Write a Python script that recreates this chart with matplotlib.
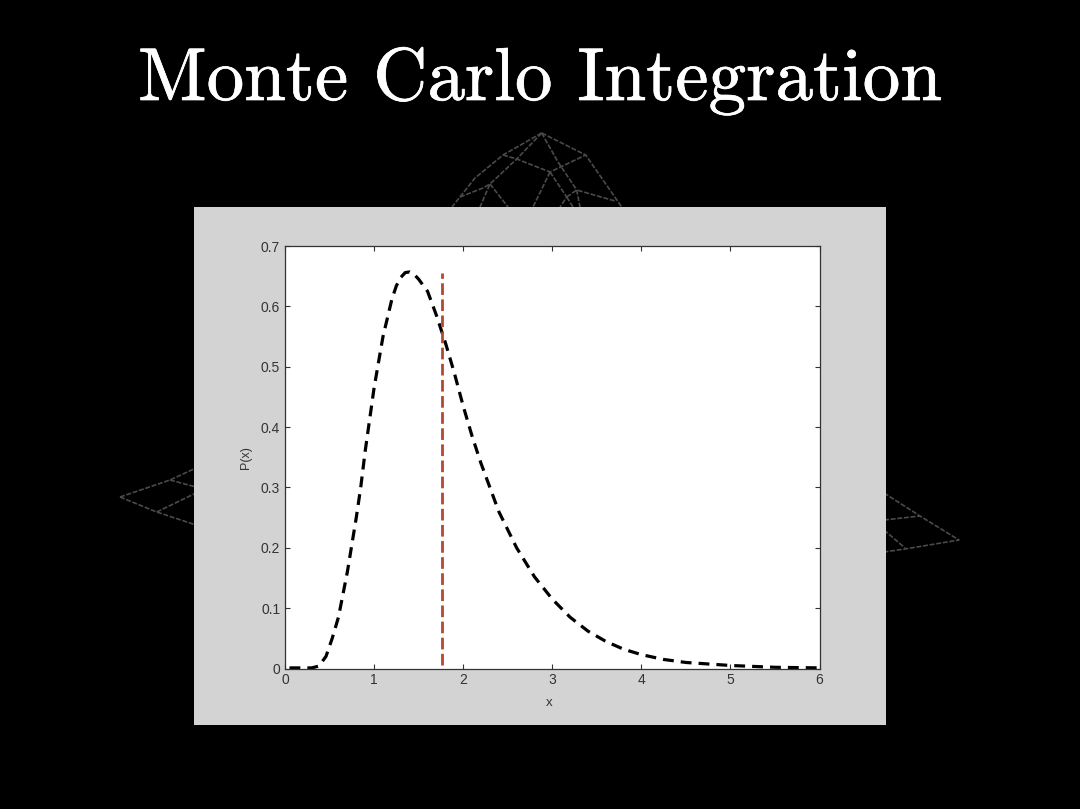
import matplotlib
matplotlib.use('Agg')
import matplotlib.pyplot as plt
import matplotlib.patheffects as pe
from matplotlib.patches import Rectangle

# curve
x_vals = [0.05, 0.2, 0.3, 0.38, 0.46, 0.53, 0.6, 0.7, 0.8, 0.85, 0.9, 1.0, 1.1, 1.2, 1.25, 1.3,
          1.35, 1.4, 1.45, 1.5, 1.6, 1.7, 1.8, 1.9, 2.0, 2.1, 2.2, 2.3, 2.4, 2.6, 2.8, 3.0, 3.2,
          3.4, 3.6, 3.8, 4.0, 4.25, 4.5, 5.0, 5.5, 6.0]
p_vals = [0.001, 0.001, 0.001, 0.004, 0.02, 0.05, 0.085, 0.16, 0.25, 0.30, 0.36, 0.465, 0.55,
          0.612, 0.634, 0.648, 0.656, 0.657, 0.653, 0.645, 0.625, 0.585, 0.54, 0.49, 0.435,
          0.385, 0.34, 0.30, 0.26, 0.2, 0.152, 0.115, 0.085, 0.062, 0.045, 0.032, 0.023, 0.015,
          0.01, 0.005, 0.002, 0.001]
marker_x = [1.76, 1.76]
marker_y = [0.005, 0.655]
x_ticks = [0, 1, 2, 3, 4, 5, 6]
y_ticks = [0, 0.1, 0.2, 0.3, 0.4, 0.5, 0.6, 0.7]
y_labels = ['0', '0.1', '0.2', '0.3', '0.4', '0.5', '0.6', '0.7']

# wireframe behind the panel, in image pixels
wire_top = [
    [(541.7, 133), (585.7, 155), (621.7, 207)],
    [(541.7, 133), (503, 155), (475, 178), (452, 207)],
    [(541.7, 133), (516.7, 159), (490, 184), (480, 207)],
    [(503, 155), (516.7, 159), (550, 172), (585.7, 155)],
    [(541.7, 133), (558, 162), (576.7, 190), (580, 207)],
    [(550, 172), (533, 207)],
    [(550, 172), (566.7, 197), (560, 207)],
    [(566.7, 197), (573, 207)],
    [(566.7, 197), (576.7, 190), (615, 201)],
    [(490, 184), (508, 207)],
    [(460, 197), (483, 188), (490, 184)],
]
wire_left = [
    [(120, 497), (170, 480), (196, 468)],
    [(170, 480), (196, 487)],
    [(120, 497), (156.7, 512), (196, 525)],
    [(156.7, 512), (196, 493)],
]
wire_right = [
    [(884, 493), (920, 516), (959, 540), (905, 549), (884, 552)],
    [(884, 520), (920, 516)],
    [(884, 530), (905, 548)],
]

plt.rcParams['font.family'] = ['Liberation Sans', 'DejaVu Sans']

fig = plt.figure(figsize=(10.8, 8.09), dpi=100, facecolor='black')

# background layer in pixel coordinates
bg = fig.add_axes([0, 0, 1, 1])
bg.set_xlim(0, 1080)
bg.set_ylim(809, 0)
bg.axis('off')
for wire in wire_top + wire_left + wire_right:
    bg.plot([p[0] for p in wire], [p[1] for p in wire], color='#4a4a4a', lw=1.2,
            ls=(0, (3, 1)), zorder=1)
bg.add_patch(Rectangle((194, 207), 692, 518, facecolor='#d4d3d4', edgecolor='none', zorder=2))
title = bg.text(540, 100, 'Monte Carlo Integration', color='white', fontsize=54, family='cmr10',
                ha='center', va='baseline', zorder=3)
title.set_path_effects([pe.withStroke(linewidth=0.5, foreground='white')])

# main plot
ax = fig.add_axes([285 / 1080, 1 - 668.5 / 809, 534.5 / 1080, 422.5 / 809], facecolor='white')
ax.plot(x_vals, p_vals, color='black', lw=2.3, ls=(0, (3.4, 2.2)))
ax.plot(marker_x, marker_y, color='#b8452f', lw=2.0, ls=(0, (4.2, 1.6)))
ax.set_xlim(0, 6)
ax.set_ylim(0, 0.7)
ax.set_xticks(x_ticks)
ax.set_yticks(y_ticks)
ax.set_yticklabels(y_labels)
ax.tick_params(direction='in', top=True, right=True, length=3.5, width=0.8, color='#333333',
               labelsize=10, labelcolor='#333333', pad=3.5)
for spine in ax.spines.values():
    spine.set_color('#333333')
    spine.set_linewidth(0.9)
ax.set_xlabel('x', fontsize=9.5, color='#333333')
ax.xaxis.set_label_coords(0.494, -0.068)
ax.set_ylabel('P(x)', fontsize=9, color='#333333', labelpad=6)

fig.savefig('out.png', dpi=100, facecolor='black')
